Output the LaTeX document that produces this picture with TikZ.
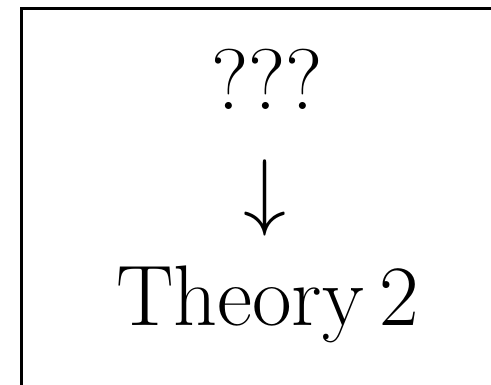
\RequirePackage{fix-cm}
\documentclass[tikz,border=0pt]{standalone}
\tikzset{
  big/.style={font=\fontsize{86}{100}\selectfont, inner sep=0pt, anchor=base},
  frame/.style={draw=black, line width=3pt}
}
\begin{document}
\begin{tikzpicture}[x=1pt,y=1pt]
\useasboundingbox (0,0) rectangle (491,384);
\clip (0,0) rectangle (491,384);
\draw[frame] (21.5,375.5) rectangle (560,-60);
\node[big] (q) at (267,274) {???};
\node[big] (arr) at (265,165) {$\downarrow$};
\node[big] (t) at (267.5,59) {Theory\hspace{0.18em}2};
\end{tikzpicture}
\end{document}
